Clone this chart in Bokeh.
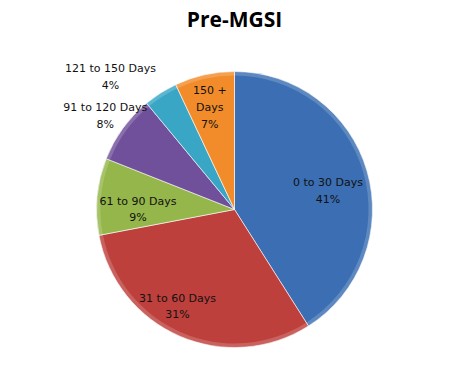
import numpy as np
from bokeh.plotting import figure
from bokeh.models import Range1d, ColumnDataSource, Label
from bokeh.core.properties import value
from bokeh.embed import file_html
from bokeh.resources import INLINE

# ---- data ----
categories = ["0 to 30 Days", "31 to 60 Days", "61 to 90 Days",
              "91 to 120 Days", "121 to 150 Days", "150 +\nDays"]
percents = [41, 31, 9, 8, 4, 7]
title_text = "Pre-MGSI"

# ---- style / layout ----
colors = ["#3B6EB2", "#BE403C", "#94B64A", "#70509A", "#3AA6C6", "#F28C2A"]
W, H = 444, 354
CX, CY = 234, 209          # pie centre in frame pixels (from left, from top)
R = 138                     # pie radius, px
label_radius = [0.69, 0.815, 0.70, 1.157, 1.317, 0.761]
label_nudge_deg = [5, 7, -5.4, 0, -10.6, -1]

vals = np.array(percents, dtype=float)
frac = vals / vals.sum()
cum_end = np.cumsum(frac)
cum_start = cum_end - frac
# clockwise from 12 o'clock
start = np.pi / 2 - cum_end * 2 * np.pi
end = np.pi / 2 - cum_start * 2 * np.pi
mid_cw = (cum_start + cum_end) / 2 * 360 + np.array(label_nudge_deg)
rad = np.deg2rad(mid_cw)
lx = np.sin(rad) * R * np.array(label_radius)
ly = np.cos(rad) * R * np.array(label_radius)
labels = [f"{c}\n{p}%" for c, p in zip(categories, percents)]

src = ColumnDataSource(dict(start=start, end=end, color=colors,
                            lx=lx, ly=ly, label=labels))

p = figure(width=W, height=H, output_backend="svg", toolbar_location=None,
           x_range=Range1d(-CX, W - CX), y_range=Range1d(-(H - CY), CY),
           min_border=0)
p.axis.visible = False
p.grid.visible = False
p.outline_line_color = None
p.background_fill_color = "white"

p.wedge(x=0, y=0, radius=R, start_angle="start", end_angle="end",
        fill_color="color", line_color="white", line_alpha=0.6, line_width=1,
        source=src)
# subtle bevel: light rim
p.annular_wedge(x=0, y=0, inner_radius=R - 4, outer_radius=R,
                start_angle="start", end_angle="end", fill_color="white",
                fill_alpha=0.18, line_color=None, source=src)

p.text(x="lx", y="ly", text="label", source=src,
       text_font=value("DejaVu Sans"), text_font_size="11px",
       text_color="#111111", text_align="center", text_baseline="middle",
       text_line_height=1.3)

p.add_layout(Label(x=CX, y=H - 18, x_units="screen", y_units="screen",
                   text=title_text, text_font="Open Sans",
                   text_font_size="21px", text_font_style="bold",
                   text_color="#000000", text_align="center",
                   text_baseline="middle"))

open("out.html", "w").write(file_html(p, INLINE))
